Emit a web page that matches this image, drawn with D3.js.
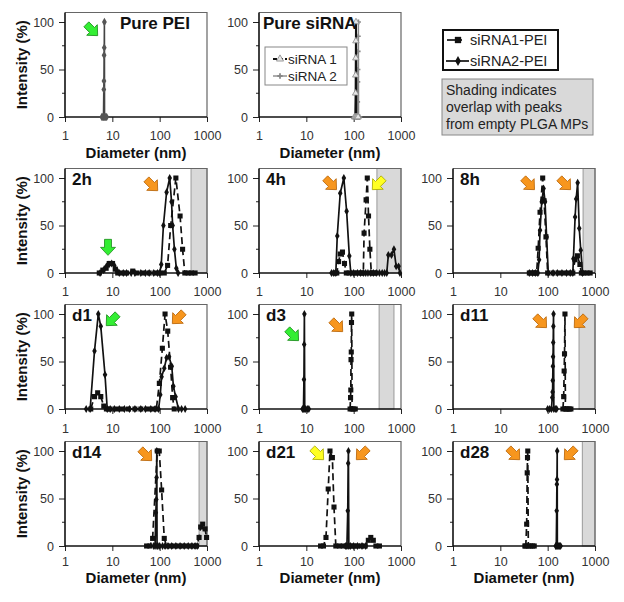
<!DOCTYPE html>
<html><head><meta charset="utf-8">
<script src="https://cdn.jsdelivr.net/npm/d3@7"></script>
<style>
body{margin:0;background:#fff}
svg{display:block}
text{font-family:"Liberation Sans",Arial,sans-serif}
</style>
</head><body><svg id="c" width="624" height="602"></svg>
<script>
// ---------- DATA (diameter nm, intensity %) ----------
const X_TICKS = [1, 10, 100, 1000];
const Y_TICKS = [0, 50, 100];
const Y_MINOR = [25, 75];

const pure_PEI = [[6.0,0],[6.3,0],[6.5,0],[6.6,29],[6.65,38],[6.7,65],[6.75,73],[6.8,100],[6.85,0],[7.2,0],[7.6,0]];
const pure_siRNA1 = [[104,0],[108,0],[110,25],[110.5,44],[111,62],[111.5,80],[112,100],[113,0],[118,0],[124,0]];
const pure_siRNA2 = [[115,0],[119,0],[121,16],[122,37],[123,50],[124,69],[125,85],[126,100],[127,0],[131,0],[135,0]];

const h2_s1 = [[5.3,0],[6.3,3],[7.4,5],[8.6,10],[10.1,10],[11.5,4],[13,0],[16,0],[20,0],[27,2],[33,0],[45,0],[60,0],[80,0],[100,0],[125,0],[147,8],[171,50],[220,100],[270,60],[305,25],[340,0],[400,0],[470,0],[560,0]];
const h2_s2 = [[5.5,0],[6.5,3],[7.5,7],[8.5,9],[9.7,10],[11,8],[12.5,3],[14,0],[17,0],[20,0],[25,0],[30,0],[40,0],[50,0],[60,0],[75,0],[90,0],[100,0],[108,9],[120,50],[140,85],[163,100],[178,75],[188,50],[205,25],[225,5],[245,0]];

const h4_s1 = [[40,0],[44,0],[48,12],[52,20],[58,22],[64,10],[70,0],[80,0],[100,0],[120,0],[145,0],[160,0],[166,42],[183,77],[194,100],[206,60],[220,25],[236,0],[260,0],[290,0]];
const h4_s2 = [[34,0],[38,0],[42,0],[45,39],[52,84],[62,100],[71,65],[81,18],[87,0],[100,0],[120,0],[140,0],[160,0],[180,0],[200,0],[230,0],[260,0],[300,0],[350,0],[400,0],[450,0],[500,0],[540,19],[630,19],[710,25],[790,7],[890,7],[950,0]];

const h8_s1 = [[41,0],[48,0],[55,0],[58.5,0],[63,26],[69,64],[78.5,100],[84,76],[92,38],[100,0],[130,0],[170,0],[220,0],[280,0],[340,0],[380,14],[425,18],[480,9],[515,0],[580,0],[680,0],[790,0]];
const h8_s2 = [[41,0],[48,0],[55,0],[62,0],[66,14],[69,45],[75,75],[82,89],[88,75],[95,38],[103,0],[130,0],[160,0],[200,0],[250,0],[300,0],[340,0],[350,15],[380,59],[400,78],[430,95],[465,47],[500,24],[545,0]];

const d1_s1 = [[3.5,0],[4.2,13],[4.9,17],[5.7,13],[6.6,3],[7.5,0],[9,0],[12,0],[16,0],[22,0],[30,0],[40,0],[55,0],[70,0],[85,0],[98.5,27],[114,64],[130,100],[148,82],[170,44],[188,12],[203,0]];
const d1_s2 = [[2.8,0],[3.4,0],[4.2,61],[5.05,100],[5.7,87],[7.0,36],[7.8,0],[9,0],[11,0],[14,0],[18,0],[23,0],[30,0],[40,0],[50,0],[65,0],[80,0],[95,0],[103,15],[110,34],[125,43],[140,54],[158,55],[180,45],[195,24],[217,13],[250,0],[290,0],[345,0]];

const d3_s1 = [[84,0],[86,12],[87,20],[88,52],[89,60],[90,91],[91,100],[92.5,0],[100,0],[108,0]];
const d3_s2 = [[8.3,0],[8.7,0],[8.9,31],[9.0,68],[9.1,100],[9.25,0],[9.7,0],[10.5,0],[11.3,0]];

const d11_s1 = [[210,0],[218,13],[223,40],[227,58],[232,100],[237,0],[250,0],[270,0],[290,0],[310,0]];
const d11_s2 = [[100,0],[110,0],[120,0],[125,12],[127,18],[128,30],[129,45],[130,55],[131,70],[132,87],[133,100],[135,0],[145,0],[155,0]];

const d14_s1 = [[53,0],[62,0],[71,8],[89,100],[98,100],[110,59],[125,8],[140,0],[170,0],[210,0],[260,0],[320,0],[400,0],[500,0],[600,0],[680,9],[735,20],[810,23],[910,18],[980,9]];
const d14_s2 = [[75,0],[80,0],[83,35],[85,49],[86,72],[87,100],[88,0],[92,0],[100,0],[115,0],[130,0],[150,0],[180,0],[220,0],[270,0],[330,0],[400,0],[480,0],[560,0],[620,0]];

const d21_s1 = [[20,0],[23,0],[26,9],[29,60],[31.6,100],[35.5,93],[38.4,41],[42,0],[50,0],[60,0],[71,0],[85,0],[100,0],[120,0],[145,0],[175,0],[204,6],[230,9],[260,6],[295,0],[350,0]];
const d21_s2 = [[68,0],[72,0],[75,37],[76.5,87],[77.5,100],[79,0],[85,0],[100,0],[120,0],[150,0],[180,0]];

const d28_s1 = [[33,0],[34.5,0],[36,23],[37,77],[37.5,93],[38,100],[39,0],[43,0],[48,0],[52,0]];
const d28_s2 = [[148,0],[152,0],[155,37],[156.5,65],[157.5,70],[159,100],[160,0],[168,0],[178,0],[188,0]];

// shaded ranges (nm) overlapping with empty PLGA MP peaks
const shade_2h = [460, 1000];
const shade_4h = [310, 1000];
const shade_8h = [560, 1000];
const shade_d3 = [345, 710];
const shade_d11 = [460, 1000];
const shade_d14 = [680, 1000];
const shade_d28 = [540, 1000];

// arrows: [diameter, intensity, colour, direction]
const arrows_PEI = [[3.72, 91.6, 'green', 45]];
const arrows_2h = [[8.1, 27, 'green', 90], [69, 92.6, 'orange', 45]];
const arrows_4h = [[33, 93.7, 'orange', 45], [326, 93.7, 'yellow', 135]];
const arrows_8h = [[40, 93.7, 'orange', 45], [232, 93.7, 'orange', 45]];
const arrows_d1 = [[9.8, 93.7, 'green', 135], [244, 95.8, 'orange', 135]];
const arrows_d3 = [[5.2, 77.9, 'green', 45], [44.5, 87.4, 'orange', 45]];
const arrows_d11 = [[72, 91.6, 'orange', 45], [480, 91.6, 'orange', 135]];
const arrows_d14 = [[51.5, 95.8, 'orange', 45]];
const arrows_d21 = [[17.6, 96.8, 'yellow', 45], [150, 96.8, 'orange', 135]];
const arrows_d28 = [[19.5, 96.8, 'orange', 45], [296, 96.8, 'orange', 135]];

// ---------- LAYOUT ----------
const COL_L = [65, 259, 453];
const ROW_B = [117, 273, 409, 546];
const ROW_TICKPAD = [9, 9, 10, 6];
const ROW_TITLE = [41, 0, 0, 37];
const PW = 142, PH = 104.5;

const panels = [
  {label:'Pure PEI', col:0, row:0, lx:55, pure:'pei', arrows:arrows_PEI, xTitle:true, yTitle:true},
  {label:'Pure siRNA', col:1, row:0, lx:4, pure:'sirna', arrows:[], xTitle:true},
  {label:'2h', col:0, row:1, s1:h2_s1, s2:h2_s2, shade:shade_2h, arrows:arrows_2h, yTitle:true},
  {label:'4h', col:1, row:1, s1:h4_s1, s2:h4_s2, shade:shade_4h, arrows:arrows_4h},
  {label:'8h', col:2, row:1, s1:h8_s1, s2:h8_s2, shade:shade_8h, arrows:arrows_8h},
  {label:'d1', col:0, row:2, s1:d1_s1, s2:d1_s2, arrows:arrows_d1, yTitle:true},
  {label:'d3', col:1, row:2, s1:d3_s1, s2:d3_s2, shade:shade_d3, arrows:arrows_d3},
  {label:'d11', col:2, row:2, s1:d11_s1, s2:d11_s2, shade:shade_d11, arrows:arrows_d11},
  {label:'d14', col:0, row:3, s1:d14_s1, s2:d14_s2, shade:shade_d14, arrows:arrows_d14, xTitle:true, yTitle:true},
  {label:'d21', col:1, row:3, s1:d21_s1, s2:d21_s2, arrows:arrows_d21, xTitle:true},
  {label:'d28', col:2, row:3, s1:d28_s1, s2:d28_s2, shade:shade_d28, arrows:arrows_d28, xTitle:true}
];

const arrowColors = {
  green:  {fill:'#33ee33', stroke:'#1c8c1c'},
  orange: {fill:'#f7961e', stroke:'#b8650a'},
  yellow: {fill:'#ffff22', stroke:'#a8a800'}
};
const arrowShape = 'M-8,-3.5L0,-3.5L0,-7.5L8,0L0,7.5L0,3.5L-8,3.5Z';

const svg = d3.select('#c');
svg.append('rect').attr('width',624).attr('height',602).attr('fill','#fff');

function drawSeries(g, data, x, y, opt) {
  const line = d3.line().x(d => x(d[0])).y(d => y(d[1]));
  g.append('path').datum(data).attr('d', line)
    .attr('fill','none').attr('stroke', opt.stroke).attr('stroke-width', opt.width)
    .attr('stroke-dasharray', opt.dash || null).attr('stroke-linejoin','round');
  const sym = d3.symbol().type(opt.symbol).size(opt.size);
  g.selectAll(null).data(data).enter().append('path')
    .attr('d', sym)
    .attr('transform', d => `translate(${x(d[0])},${y(d[1])})`)
    .attr('fill', opt.mfill).attr('stroke', opt.mstroke || 'none').attr('stroke-width', opt.mstroke ? 0.8 : 0);
}

const S1 = {stroke:'#111', width:1.7, dash:'7,4', symbol:d3.symbolSquare, size:26, mfill:'#111'};
const S2 = {stroke:'#111', width:1.7, symbol:d3.symbolDiamond, size:18, mfill:'#111'};

panels.forEach((p, i) => {
  const L = COL_L[p.col], B = ROW_B[p.row];
  const x = d3.scaleLog().domain([1, 1000]).range([L, L + PW]);
  const y = d3.scaleLinear().domain([0, 110]).range([B, B - PH]);
  const g = svg.append('g');

  const cid = 'clip' + i;
  svg.append('clipPath').attr('id', cid).append('rect')
    .attr('x', L - 4).attr('y', B - PH - 4).attr('width', PW + 8).attr('height', PH + 8);

  if (p.shade) {
    g.append('rect').attr('x', x(p.shade[0])).attr('y', y(110))
      .attr('width', x(p.shade[1]) - x(p.shade[0])).attr('height', y(0) - y(110))
      .attr('fill', '#d9d9d9').attr('stroke', '#9a9a9a').attr('stroke-width', 1);
  }
  g.append('path').attr('d', `M${L},${y(110)}H${L+PW}V${B}`)
    .attr('fill','none').attr('stroke','#666').attr('stroke-width',1.2);

  const ax = g.append('g').attr('transform', `translate(0,${B})`)
    .call(d3.axisBottom(x).tickValues(X_TICKS).tickFormat(d3.format('d')).tickSize(5).tickPadding(ROW_TICKPAD[p.row]));
  ax.select('.domain').remove();
  ax.selectAll('line').attr('stroke','#222').attr('stroke-width',1);
  ax.selectAll('text').attr('font-size',12.5).attr('fill','#333').attr('font-family','"Liberation Sans",Arial,sans-serif');

  const ay = g.append('g').attr('transform', `translate(${L},0)`)
    .call(d3.axisLeft(y).tickValues(Y_TICKS).tickSize(6).tickPadding(5));
  ay.select('.domain').remove();
  ay.selectAll('line').attr('stroke','#222').attr('stroke-width',1);
  ay.selectAll('text').attr('font-size',12.5).attr('fill','#333').attr('font-family','"Liberation Sans",Arial,sans-serif');
  g.selectAll(null).data(Y_MINOR).enter().append('line')
    .attr('x1', L - 3).attr('x2', L).attr('y1', d => y(d)).attr('y2', d => y(d))
    .attr('stroke','#222').attr('stroke-width',1);

  g.append('line').attr('x1', L).attr('x2', L).attr('y1', y(110)).attr('y2', B)
    .attr('stroke','#111').attr('stroke-width',1.6);
  g.append('line').attr('x1', L).attr('x2', L + PW).attr('y1', B).attr('y2', B)
    .attr('stroke','#111').attr('stroke-width',1.6);

  const dg = g.append('g').attr('clip-path', `url(#${cid})`);
  if (p.pure === 'pei') {
    drawSeries(dg, pure_PEI, x, y, {stroke:'#444', width:1.6, symbol:d3.symbolDiamond, size:20, mfill:'#555'});
  } else if (p.pure === 'sirna') {
    drawSeries(dg, pure_siRNA2, x, y, {stroke:'#888', width:1.4, symbol:d3.symbolCross, size:14, mfill:'#888'});
    drawSeries(dg, pure_siRNA1, x, y, {stroke:'#111', width:2, symbol:d3.symbolTriangle, size:18, mfill:'#e6e6e6', mstroke:'#888'});
  } else {
    drawSeries(dg, p.s1, x, y, S1);
    drawSeries(dg, p.s2, x, y, S2);
  }

  p.arrows.forEach(a => {
    const c = arrowColors[a[2]];
    g.append('path').attr('d', arrowShape)
      .attr('transform', `translate(${x(a[0])},${y(a[1])}) rotate(${a[3]})`)
      .attr('fill', c.fill).attr('stroke', c.stroke).attr('stroke-width', 0.8);
  });

  g.append('text').attr('x', L + (p.lx !== undefined ? p.lx : 7)).attr('y', y(110) + 16)
    .attr('font-size', 17).attr('font-weight','bold').attr('fill','#111').text(p.label);

  if (p.xTitle) {
    g.append('text').attr('x', L + PW / 2).attr('y', B + ROW_TITLE[p.row]).attr('text-anchor','middle')
      .attr('font-size', 15).attr('font-weight','bold').attr('fill','#111').text('Diameter (nm)');
  }
  if (p.yTitle) {
    g.append('text').attr('transform', `translate(27,${B - PH / 2}) rotate(-90)`).attr('text-anchor','middle')
      .attr('font-size', 15).attr('font-weight','bold').attr('fill','#111').text('Intensity (%)');
  }

  if (p.pure === 'sirna') {
    const lg = g.append('g');
    lg.append('rect').attr('x', 265).attr('y', 47).attr('width', 82).attr('height', 38)
      .attr('fill','#fff').attr('stroke','#888').attr('stroke-width',1);
    lg.append('line').attr('x1',273).attr('x2',287).attr('y1',59).attr('y2',59)
      .attr('stroke','#111').attr('stroke-width',2).attr('stroke-dasharray','4,2');
    lg.append('path').attr('d', d3.symbol().type(d3.symbolTriangle).size(22)())
      .attr('transform','translate(280,59)').attr('fill','#e6e6e6').attr('stroke','#888').attr('stroke-width',0.8);
    lg.append('text').attr('x',288).attr('y',64).attr('font-size',13.5).attr('fill','#222').text('siRNA 1');
    lg.append('line').attr('x1',273).attr('x2',287).attr('y1',76).attr('y2',76)
      .attr('stroke','#888').attr('stroke-width',1.4);
    lg.append('path').attr('d', d3.symbol().type(d3.symbolCross).size(16)())
      .attr('transform','translate(280,76)').attr('fill','#888');
    lg.append('text').attr('x',288).attr('y',81).attr('font-size',13.5).attr('fill','#222').text('siRNA 2');
  }
});

const leg = svg.append('g');
leg.append('rect').attr('x',443).attr('y',30).attr('width',115).attr('height',40)
  .attr('fill','#fff').attr('stroke','#111').attr('stroke-width',2);
leg.append('line').attr('x1',447).attr('x2',462).attr('y1',40).attr('y2',40).attr('stroke','#111').attr('stroke-width',1.7);
leg.append('path').attr('d', d3.symbol().type(d3.symbolSquare).size(40)()).attr('transform','translate(458,40)').attr('fill','#111');
leg.append('text').attr('x',470).attr('y',45).attr('font-size',14.5).attr('fill','#222').text('siRNA1-PEI');
leg.append('line').attr('x1',446).attr('x2',469).attr('y1',61).attr('y2',61).attr('stroke','#111').attr('stroke-width',1.7);
leg.append('path').attr('d', d3.symbol().type(d3.symbolDiamond).size(28)()).attr('transform','translate(458,61)').attr('fill','#111');
leg.append('text').attr('x',470).attr('y',66).attr('font-size',14.5).attr('fill','#222').text('siRNA2-PEI');

const note = svg.append('g');
note.append('rect').attr('x',442).attr('y',79).attr('width',151).attr('height',56)
  .attr('fill','#d9d9d9').attr('stroke','#888').attr('stroke-width',1);
['Shading indicates','overlap with peaks','from empty PLGA MPs'].forEach((t, i) => {
  note.append('text').attr('x',446).attr('y',95 + i * 17).attr('font-size',14).attr('fill','#222').text(t);
});
</script></body></html>
